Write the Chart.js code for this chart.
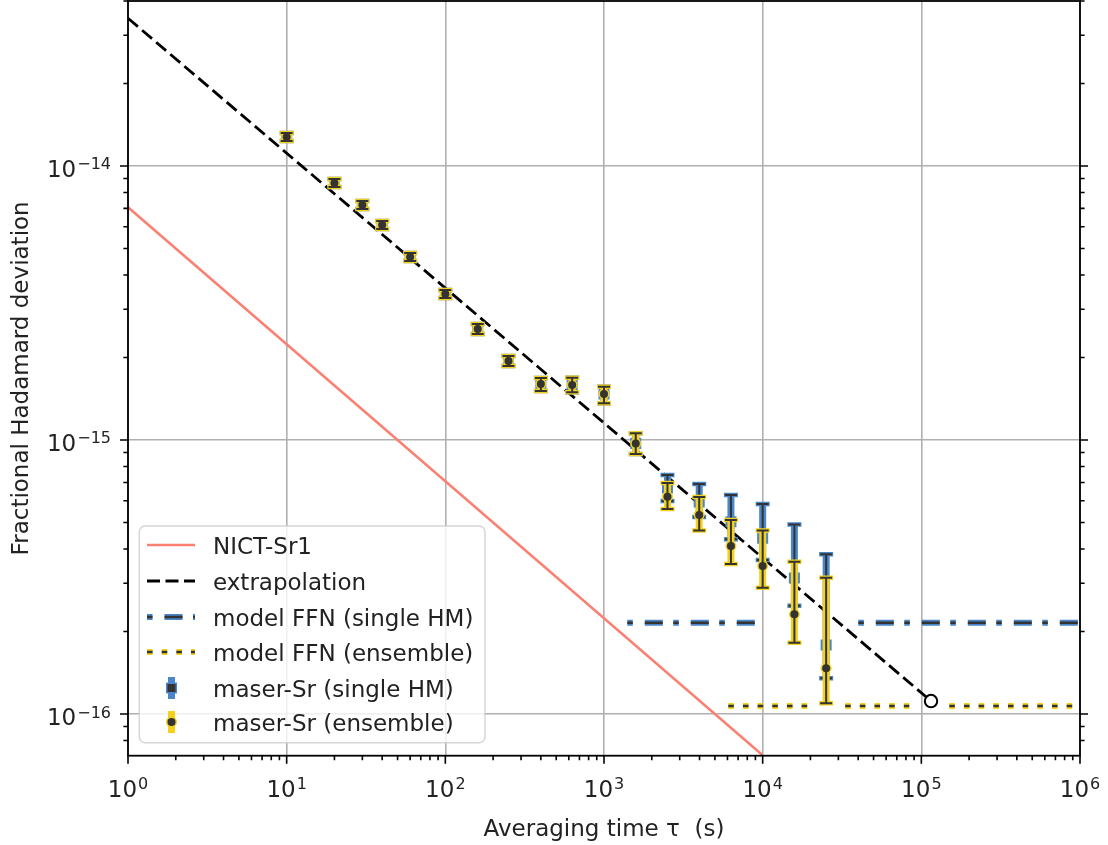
<!DOCTYPE html>
<html><head><meta charset="utf-8">
<script src="https://cdn.jsdelivr.net/npm/chart.js@4.4.1/dist/chart.umd.min.js"></script>
<style>html,body{margin:0;padding:0;background:#fff;}#wrap{width:1108px;height:845px;}</style>
</head><body><div id="wrap"><canvas id="c" width="1108" height="845"></canvas></div>
<script>
// ---------------- data ----------------
const tau = [10,20,30,40,60,100,160,250,400,630,1000,1585,2512,3981,6310,10000,15849,25119];
const ensVal  = [1.276e-14,8.67e-15,7.21e-15,6.09e-15,4.655e-15,3.41e-15,2.541e-15,1.942e-15,1.601e-15,1.587e-15,1.472e-15,9.72e-16,6.21e-16,5.33e-16,4.10e-16,3.47e-16,2.312e-16,1.468e-16];
const ensHigh = [1.319e-14,8.97e-15,7.45e-15,6.30e-15,4.815e-15,3.526e-15,2.651e-15,2.025e-15,1.684e-15,1.688e-15,1.565e-15,1.058e-15,6.97e-16,6.19e-16,5.105e-16,4.67e-16,3.595e-16,3.143e-16];
const ensLow  = [1.233e-14,8.38e-15,6.97e-15,5.89e-15,4.50e-15,3.298e-15,2.437e-15,1.863e-15,1.510e-15,1.493e-15,1.361e-15,8.89e-16,5.60e-16,4.67e-16,3.526e-16,2.89e-16,1.820e-16,1.094e-16];
const hmVal  = [1.276e-14,8.67e-15,7.21e-15,6.09e-15,4.655e-15,3.41e-15,2.541e-15,1.942e-15,1.601e-15,1.587e-15,1.472e-15,9.72e-16,6.68e-16,5.94e-16,5.03e-16,4.377e-16,3.136e-16,1.786e-16];
const hmHigh = [1.319e-14,8.97e-15,7.45e-15,6.30e-15,4.815e-15,3.526e-15,2.651e-15,2.025e-15,1.684e-15,1.688e-15,1.565e-15,1.058e-15,7.45e-16,6.91e-16,6.30e-16,5.84e-16,4.92e-16,3.825e-16];
const hmLow  = [1.233e-14,8.38e-15,6.97e-15,5.89e-15,4.50e-15,3.298e-15,2.437e-15,1.863e-15,1.510e-15,1.493e-15,1.361e-15,8.89e-16,5.99e-16,5.24e-16,4.34e-16,3.648e-16,2.485e-16,1.350e-16];

const nictTau = [1, 10000];
const nictVal = [7.07e-15, 7.07e-17];
const extrapTau = [1, 115100];
const extrapVal = [3.46e-14, 1.115e-16];
const circleTau = [115100];
const circleVal = [1.115e-16];
const modelHmTau = [1402, 9075, 9100, 40070, 1000000];
const modelHmVal = [2.154e-16, 2.154e-16, null, 2.154e-16, 2.154e-16];
const modelEnsTau = [6070, 19110, 19200, 33100, 83960, 84000, 150000, 1000000];
const modelEnsVal = [1.07e-16, 1.07e-16, null, 1.07e-16, 1.07e-16, null, 1.07e-16, 1.07e-16];

const xTickValues = [1,10,100,1000,10000,100000,1000000];
const xTickSup = ['0','1','2','3','4','5','6'];
const yTickValues = [1e-16,1e-15,1e-14];
const yTickSup = ['\u221216','\u221215','\u221214'];
const legendLabels = ['NICT-Sr1','extrapolation','model FFN (single HM)','model FFN (ensemble)','maser-Sr (single HM)','maser-Sr (ensemble)'];
const xTitle = 'Averaging time \u03c4  (s)';
const yTitle = 'Fractional Hadamard deviation';

// ---------------- style ----------------
const X_MIN = 1, X_MAX = 1e6, Y_MIN = 7.045e-17, Y_MAX = 4.0e-14;
const C_BLUE = '#4a86c8', C_YEL = '#f3d11c', C_DARK = '#333333', C_SALMON = '#fa8072';
const FONT = '"DejaVu Sans", "Liberation Sans", sans-serif';
const DASH_HM = [5.5, 12, 18, 10.5], DASH_ENS = [5.6, 9.07], DASH_EX = [13, 5.5];

const zip = (xs, ys) => xs.map((x, i) => ({x: x, y: ys[i]}));

const errorBarPlugin = {
  id: 'errbars',
  beforeDatasetDraw(chart, args) {
    const ds = chart.data.datasets[args.index];
    if (!ds.errLow) return;
    const ctx = chart.ctx, xs = chart.scales.x, ys = chart.scales.y;
    const e = ds.errStyle;
    ctx.save();
    ctx.strokeStyle = e.color;
    for (let i = 0; i < ds.data.length; i++) {
      const px = xs.getPixelForValue(ds.data[i].x);
      const yl = ys.getPixelForValue(ds.errLow[i]);
      const yh = ys.getPixelForValue(ds.errHigh[i]);
      ctx.lineWidth = e.barWidth;
      ctx.beginPath(); ctx.moveTo(px, yl); ctx.lineTo(px, yh); ctx.stroke();
      ctx.lineWidth = e.capThick;
      ctx.beginPath();
      ctx.moveTo(px - e.capHalf, yl); ctx.lineTo(px + e.capHalf, yl);
      ctx.moveTo(px - e.capHalf, yh); ctx.lineTo(px + e.capHalf, yh);
      ctx.stroke();
    }
    ctx.restore();
  }
};

function drawPow(ctx, base, sup, x, yBase, ySup, align) {
  ctx.font = '23px ' + FONT; const wb = ctx.measureText(base).width;
  ctx.font = '16px ' + FONT; const ws = ctx.measureText(sup).width;
  const total = wb + 1 + ws;
  const x0 = align === 'center' ? x - total / 2 : x - total;
  ctx.textAlign = 'left'; ctx.textBaseline = 'alphabetic';
  ctx.font = '23px ' + FONT; ctx.fillText(base, x0, yBase);
  ctx.font = '16px ' + FONT; ctx.fillText(sup, x0 + wb + 1, ySup);
}

function roundRect(ctx, x, y, w, h, r) {
  ctx.beginPath();
  ctx.moveTo(x + r, y);
  ctx.arcTo(x + w, y, x + w, y + h, r);
  ctx.arcTo(x + w, y + h, x, y + h, r);
  ctx.arcTo(x, y + h, x, y, r);
  ctx.arcTo(x, y, x + w, y, r);
  ctx.closePath();
}

const decorPlugin = {
  id: 'decor',
  afterDraw(chart) {
    const ctx = chart.ctx, a = chart.chartArea, xs = chart.scales.x, ys = chart.scales.y;
    ctx.save();
    // frame
    ctx.strokeStyle = '#000'; ctx.lineWidth = 1.8;
    ctx.strokeRect(a.left, a.top, a.right - a.left, a.bottom - a.top);
    // ticks
    ctx.lineWidth = 1.6;
    ctx.beginPath();
    for (let e = 0; e <= 6; e++) for (let m = 1; m <= 9; m++) {
      const v = m * Math.pow(10, e);
      if (v < X_MIN || v > X_MAX) continue;
      const px = xs.getPixelForValue(v);
      const len = m === 1 ? 8 : 4.6;
      ctx.moveTo(px, a.bottom); ctx.lineTo(px, a.bottom + len);
    }
    for (let e = -17; e <= -14; e++) for (let m = 1; m <= 9; m++) {
      const v = m * Math.pow(10, e);
      if (v < Y_MIN || v > Y_MAX) continue;
      const py = ys.getPixelForValue(v);
      const len = m === 1 ? 8 : 4.6;
      ctx.moveTo(a.left, py); ctx.lineTo(a.left - len, py);
      ctx.moveTo(a.right, py); ctx.lineTo(a.right + len, py);
    }
    ctx.stroke();
    // tick labels
    ctx.fillStyle = '#222';
    xTickValues.forEach((v, i) => {
      const px = xs.getPixelForValue(v);
      drawPow(ctx, '10', xTickSup[i], px, 796.5, 788.5, 'center');
    });
    yTickValues.forEach((v, i) => {
      const py = ys.getPixelForValue(v);
      drawPow(ctx, '10', yTickSup[i], 111, py + 11, py + 3.5, 'right');
    });
    // axis titles
    ctx.font = '23px ' + FONT;
    ctx.textAlign = 'center'; ctx.textBaseline = 'alphabetic';
    ctx.fillText(xTitle, (a.left + a.right) / 2, 836);
    ctx.save();
    ctx.translate(28, (a.top + a.bottom) / 2);
    ctx.rotate(-Math.PI / 2);
    ctx.fillText(yTitle, 0, 0);
    ctx.restore();

    // legend
    const bx = 139.3, by = 526, bw = 345.7, bh = 216.7;
    roundRect(ctx, bx, by, bw, bh, 6);
    ctx.fillStyle = 'rgba(255,255,255,0.8)'; ctx.fill();
    ctx.strokeStyle = 'rgba(204,204,204,0.8)'; ctx.lineWidth = 1.5; ctx.stroke();
    const rows = [545, 581, 617, 652, 688, 722];
    const hx0 = 147, hx1 = 195, hc = 171.5;
    const seg = (y, color, w, dash) => {
      ctx.save(); ctx.strokeStyle = color; ctx.lineWidth = w; ctx.setLineDash(dash);
      ctx.beginPath(); ctx.moveTo(hx0, y); ctx.lineTo(hx1, y); ctx.stroke(); ctx.restore();
    };
    seg(rows[0], C_SALMON, 2.5, []);
    seg(rows[1], '#000', 2.8, DASH_EX);
    seg(rows[2], C_BLUE, 6, DASH_HM); seg(rows[2], C_DARK, 2.5, DASH_HM);
    seg(rows[3], C_YEL, 6, DASH_ENS); seg(rows[3], C_DARK, 2.5, DASH_ENS);
    // errorbar handles
    ctx.save();
    ctx.strokeStyle = C_BLUE; ctx.lineWidth = 7;
    ctx.beginPath(); ctx.moveTo(hc, rows[4] - 11); ctx.lineTo(hc, rows[4] + 11); ctx.stroke();
    ctx.fillStyle = C_BLUE; ctx.fillRect(hc - 5.5, rows[4] - 5.5, 11, 11);
    ctx.fillStyle = C_DARK; ctx.fillRect(hc - 4, rows[4] - 4, 8, 8);
    ctx.strokeStyle = C_YEL; ctx.lineWidth = 7;
    ctx.beginPath(); ctx.moveTo(hc, rows[5] - 11); ctx.lineTo(hc, rows[5] + 11); ctx.stroke();
    ctx.fillStyle = C_YEL; ctx.beginPath(); ctx.arc(hc, rows[5], 5.5, 0, Math.PI * 2); ctx.fill();
    ctx.fillStyle = C_DARK; ctx.beginPath(); ctx.arc(hc, rows[5], 4, 0, Math.PI * 2); ctx.fill();
    ctx.restore();
    ctx.fillStyle = '#222'; ctx.font = '23px ' + FONT;
    ctx.textAlign = 'left'; ctx.textBaseline = 'alphabetic';
    legendLabels.forEach((t, i) => ctx.fillText(t, 213, rows[i] + 8.5));
    ctx.restore();
  }
};

const ptsOnly = {showLine: false, borderWidth: 0, pointBorderWidth: 0};

const chart = new Chart(document.getElementById('c'), {
  type: 'line',
  data: {
    datasets: [
      {label: 'NICT-Sr1', data: zip(nictTau, nictVal), borderColor: C_SALMON, borderWidth: 2.5, pointRadius: 0, order: 20},
      {label: 'model HM', data: zip(modelHmTau, modelHmVal), borderColor: C_BLUE, borderWidth: 6, borderDash: DASH_HM, pointRadius: 0, order: 19},
      {label: 'model HM core', data: zip(modelHmTau, modelHmVal), borderColor: C_DARK, borderWidth: 2.5, borderDash: DASH_HM, pointRadius: 0, order: 18},
      {label: 'model ens', data: zip(modelEnsTau, modelEnsVal), borderColor: C_YEL, borderWidth: 6, borderDash: DASH_ENS, pointRadius: 0, order: 17},
      {label: 'model ens core', data: zip(modelEnsTau, modelEnsVal), borderColor: C_DARK, borderWidth: 2.5, borderDash: DASH_ENS, pointRadius: 0, order: 16},
      {label: 'extrapolation', data: zip(extrapTau, extrapVal), borderColor: '#000', borderWidth: 2.8, borderDash: DASH_EX, pointRadius: 0, order: 15},
      {label: 'circle', data: zip(circleTau, circleVal), ...ptsOnly, pointRadius: 6.2, pointBorderWidth: 2, pointBackgroundColor: '#fff', pointBorderColor: '#000', order: 14},
      {label: 'maser HM', data: zip(tau, hmVal), ...ptsOnly, pointStyle: 'rect', pointRadius: 7.8, pointBackgroundColor: C_BLUE, order: 13,
        errLow: hmLow, errHigh: hmHigh, errStyle: {color: C_BLUE, barWidth: 7, capThick: 4.5, capHalf: 7}},
      {label: 'maser HM dark', data: zip(tau, hmVal), ...ptsOnly, pointStyle: 'rect', pointRadius: 4.3, pointBackgroundColor: C_DARK, order: 12,
        errLow: hmLow, errHigh: hmHigh, errStyle: {color: C_DARK, barWidth: 2, capThick: 2, capHalf: 6}},
      {label: 'maser ens', data: zip(tau, ensVal), ...ptsOnly, pointStyle: 'circle', pointRadius: 5.5, pointBackgroundColor: C_YEL, order: 11,
        errLow: ensLow, errHigh: ensHigh, errStyle: {color: C_YEL, barWidth: 7, capThick: 4.5, capHalf: 7}},
      {label: 'maser ens dark', data: zip(tau, ensVal), ...ptsOnly, pointStyle: 'circle', pointRadius: 4, pointBackgroundColor: C_DARK, order: 10,
        errLow: ensLow, errHigh: ensHigh, errStyle: {color: C_DARK, barWidth: 2, capThick: 2, capHalf: 6}}
    ]
  },
  options: {
    responsive: false, animation: false, devicePixelRatio: 1,
    layout: {autoPadding: false, padding: {left: 0, right: 28, top: 1, bottom: 0}},
    plugins: {legend: {display: false}, tooltip: {enabled: false}},
    elements: {line: {tension: 0, borderCapStyle: 'butt'}, point: {hoverRadius: 0}},
    scales: {
      x: {
        type: 'logarithmic', min: X_MIN, max: X_MAX,
        afterBuildTicks: s => { s.ticks = xTickValues.map(v => ({value: v})); },
        afterFit: s => { s.height = 845 - 755.7; },
        ticks: {display: false},
        grid: {color: '#b0b0b0', lineWidth: 1.6, drawTicks: false},
        border: {display: false}
      },
      y: {
        type: 'logarithmic', min: Y_MIN, max: Y_MAX,
        afterBuildTicks: s => { s.ticks = yTickValues.map(v => ({value: v})); },
        afterFit: s => { s.width = 128; },
        ticks: {display: false},
        grid: {color: '#b0b0b0', lineWidth: 1.6, drawTicks: false},
        border: {display: false}
      }
    }
  },
  plugins: [errorBarPlugin, decorPlugin]
});
</script></body></html>
